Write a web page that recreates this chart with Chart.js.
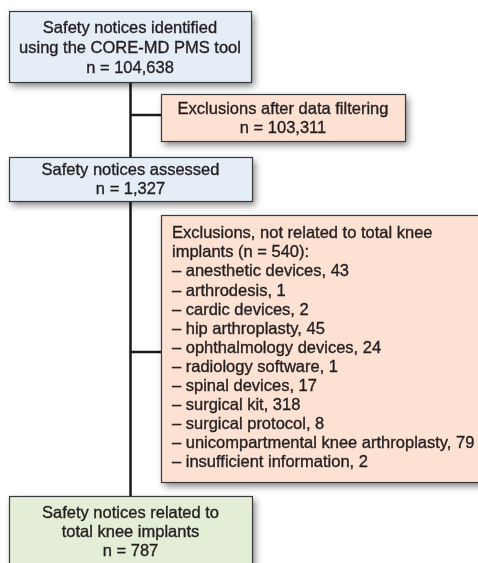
<!DOCTYPE html>
<html>
<head>
<meta charset="utf-8">
<script src="https://cdn.jsdelivr.net/npm/chart.js@4/dist/chart.umd.min.js"></script>
<style>
  html, body { margin: 0; padding: 0; background: #ffffff; }
  #wrap { width: 478px; height: 563px; position: relative; }
</style>
</head>
<body>
<div id="wrap"><canvas id="c"></canvas></div>
<script>
// ---- data ----
const stageLabels = [
  ["Safety notices identified", "using the CORE-MD PMS tool"],
  ["Safety notices assessed"],
  ["Safety notices related to", "total knee implants"]
];
const stageCounts = [104638, 1327, 787];
const exclusionLabels = [
  ["Exclusions after data filtering"],
  ["Exclusions, not related to total knee", "implants"]
];
const exclusionCounts = [103311, 540];
const reasonCategories = [
  "anesthetic devices", "arthrodesis", "cardic devices", "hip arthroplasty",
  "ophthalmology devices", "radiology software", "spinal devices", "surgical kit",
  "surgical protocol", "unicompartmental knee arthroplasty", "insufficient information"
];
const reasonCounts = [43, 1, 2, 45, 24, 1, 17, 318, 8, 79, 2];

// ---- layout (scale units) ----
const stageBoxes = [
  { x0: 9, x1: 251, y0: 11, y1: 82, base: 32.5, gap: 20 },
  { x0: 9, x1: 252, y0: 157, y1: 201, base: 175, gap: 19 },
  { x0: 9, x1: 252, y0: 496, y1: 590, base: 518.3, gap: 19 }
];
const exclBoxes = [
  { x0: 161, x1: 405, y0: 94, y1: 141, align: "center", base: 114, gap: 18.7 },
  { x0: 161, x1: 520, y0: 215, y1: 482, align: "left", base: 238.3, gap: 19.08 }
];
const spineX = 130.5;
const branchY = [115, 352];

const fmt = n => n.toLocaleString("en-US");
const colors = {
  stage: ["#e5edf7", "#e5edf7", "#e4eed6"],
  excl: "#fde1d2",
  border: "#3a3a3a",
  text: "#231f20",
  line: "#1a1a1a"
};

const flowPlugin = {
  id: "flow",
  afterDraw(chart) {
    const ctx = chart.ctx;
    const xs = chart.scales.x, ys = chart.scales.y;
    const X = v => xs.getPixelForValue(v);
    const Y = v => ys.getPixelForValue(v);

    // connectors
    ctx.save();
    ctx.strokeStyle = colors.line;
    ctx.lineWidth = 2.5;
    ctx.beginPath();
    ctx.moveTo(X(spineX), Y(stageBoxes[0].y1));
    ctx.lineTo(X(spineX), Y(stageBoxes[2].y0));
    branchY.forEach((by, i) => {
      ctx.moveTo(X(spineX), Y(by));
      ctx.lineTo(X(exclBoxes[i].x0), Y(by));
    });
    ctx.stroke();
    ctx.restore();

    function box(b, fill) {
      const x = X(b.x0), y = Y(b.y0), w = X(b.x1) - x, h = Y(b.y1) - y;
      ctx.save();
      ctx.shadowColor = "rgba(0,0,0,0.5)";
      ctx.shadowBlur = 7;
      ctx.shadowOffsetX = 3;
      ctx.shadowOffsetY = 4;
      ctx.fillStyle = fill;
      ctx.fillRect(x, y, w, h);
      ctx.restore();
      ctx.save();
      ctx.strokeStyle = colors.border;
      ctx.lineWidth = 1.2;
      ctx.strokeRect(Math.round(x) + 0.5, Math.round(y) + 0.5, Math.round(w), Math.round(h));
      ctx.restore();
    }
    function lines(arr, b, align) {
      ctx.save();
      ctx.fillStyle = colors.text;
      ctx.strokeStyle = colors.text;
      ctx.lineWidth = 0.35;
      ctx.font = "16.5px 'Liberation Sans', Arial, sans-serif";
      ctx.textBaseline = "alphabetic";
      ctx.textAlign = align;
      const tx = align === "center" ? X((b.x0 + b.x1) / 2) : X(b.x0 + 11);
      arr.forEach((t, i) => {
        const ty = Y(b.base + i * b.gap);
        ctx.fillText(t, tx, ty);
        ctx.strokeText(t, tx, ty);
      });
      ctx.restore();
    }

    stageBoxes.forEach((b, i) => {
      box(b, colors.stage[i]);
      lines([...stageLabels[i], "n = " + fmt(stageCounts[i])], b, "center");
    });

    // exclusion 1
    box(exclBoxes[0], colors.excl);
    lines([...exclusionLabels[0], "n = " + fmt(exclusionCounts[0])], exclBoxes[0], "center");

    // exclusion 2
    box(exclBoxes[1], colors.excl);
    const l2 = exclusionLabels[1].slice();
    l2[l2.length - 1] += " (n = " + fmt(exclusionCounts[1]) + "):";
    reasonCategories.forEach((c, i) => l2.push("\u2013 " + c + ", " + fmt(reasonCounts[i])));
    lines(l2, exclBoxes[1], "left");
  }
};

new Chart(document.getElementById("c"), {
  type: "scatter",
  data: { datasets: [{ data: [], pointRadius: 0 }] },
  options: {
    responsive: true,
    maintainAspectRatio: false,
    animation: false,
    layout: { padding: 0 },
    plugins: { legend: { display: false }, tooltip: { enabled: false } },
    scales: {
      x: { type: "linear", min: 0, max: 478, display: false },
      y: { type: "linear", min: 0, max: 563, reverse: true, display: false }
    }
  },
  plugins: [flowPlugin]
});
</script>
</body>
</html>
